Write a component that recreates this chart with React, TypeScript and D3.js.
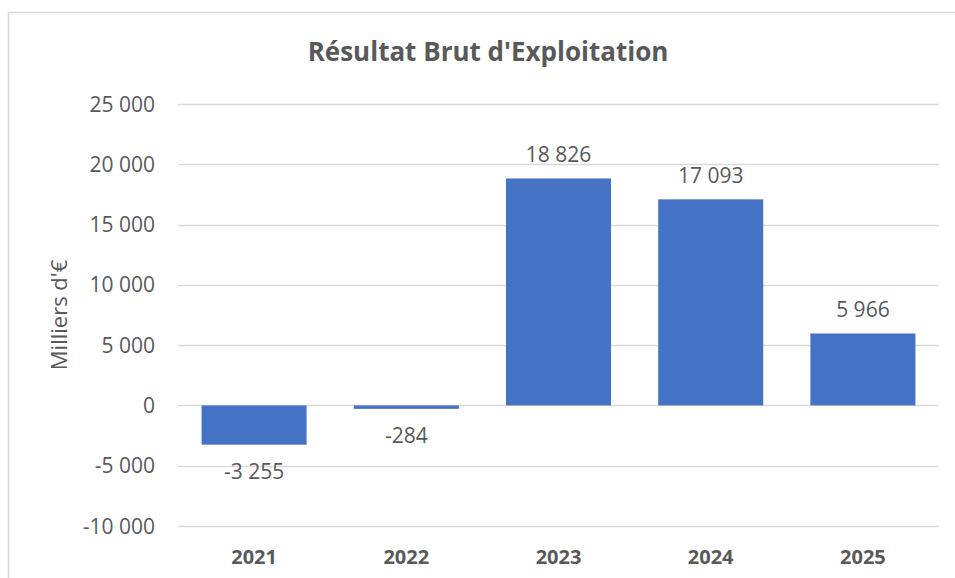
import React, { useEffect, useRef } from 'react';
import * as d3 from 'd3';

const years = ['2021', '2022', '2023', '2024', '2025'];
const values = [-3255, -284, 18826, 17093, 5966];
const yTicks = [-10000, -5000, 0, 5000, 10000, 15000, 20000, 25000];

const W = 955;
const H = 578;
const FONT = '"Open Sans", "Liberation Sans", sans-serif';
const TEXT = '#595959';

// "18 826" style numbers
const fmt = (v: number) => {
  const s = Math.abs(v).toString().replace(/\B(?=(\d{3})+(?!\d))/g, ' ');
  return (v < 0 ? '-' : '') + s;
};

export default function App() {
  const ref = useRef<SVGSVGElement>(null);

  useEffect(() => {
    const svg = d3.select(ref.current);
    svg.selectAll('*').remove();

    const x = d3.scaleBand<string>()
      .domain(years)
      .range([178, 939])
      .paddingInner(0.31)
      .paddingOuter(0.155);
    const y = d3.scaleLinear().domain([-10000, 25000]).range([526, 104]);

    // chart frame
    svg.append('rect')
      .attr('x', 8.5).attr('y', 12.5)
      .attr('width', 1000).attr('height', 1000)
      .attr('fill', 'white')
      .attr('stroke', '#d9d9d9').attr('stroke-width', 1.5);

    svg.append('text')
      .attr('x', 488).attr('y', 61)
      .attr('text-anchor', 'middle')
      .attr('font-family', FONT).attr('font-size', 26).attr('font-weight', 'bold')
      .attr('fill', TEXT)
      .text("Résultat Brut d'Exploitation");

    // gridlines + tick labels
    const grid = svg.append('g');
    grid.selectAll('line').data(yTicks).enter().append('line')
      .attr('x1', 178).attr('x2', 939)
      .attr('y1', d => Math.round(y(d)) + 0.5).attr('y2', d => Math.round(y(d)) + 0.5)
      .attr('stroke', '#d9d9d9').attr('stroke-width', 1.3);
    grid.selectAll('text').data(yTicks).enter().append('text')
      .attr('x', 155).attr('y', d => y(d) + 7.5)
      .attr('text-anchor', 'end')
      .attr('font-family', FONT).attr('font-size', 21)
      .attr('fill', TEXT)
      .text(d => fmt(d));

    svg.append('text')
      .attr('transform', 'translate(67,315) rotate(-90)')
      .attr('text-anchor', 'middle')
      .attr('font-family', FONT).attr('font-size', 22)
      .attr('fill', TEXT)
      .text("Milliers d'€");

    // bars
    svg.append('g').selectAll('rect').data(values).enter().append('rect')
      .attr('x', (d, i) => x(years[i])!)
      .attr('width', x.bandwidth())
      .attr('y', d => y(Math.max(0, d)))
      .attr('height', d => Math.abs(y(d) - y(0)))
      .attr('fill', '#4472c4');

    // data labels
    svg.append('g').selectAll('text').data(values).enter().append('text')
      .attr('x', (d, i) => x(years[i])! + x.bandwidth() / 2)
      .attr('y', d => (d >= 0 ? y(d) - 16 : y(d) + 34))
      .attr('text-anchor', 'middle')
      .attr('font-family', FONT).attr('font-size', 21)
      .attr('fill', TEXT)
      .text(d => fmt(d));

    // category labels
    svg.append('g').selectAll('text').data(years).enter().append('text')
      .attr('x', d => x(d)! + x.bandwidth() / 2)
      .attr('y', 564)
      .attr('text-anchor', 'middle')
      .attr('font-family', FONT).attr('font-size', 20).attr('font-weight', 'bold')
      .attr('fill', TEXT)
      .text(d => d);
  }, []);

  return (
    <svg
      ref={ref}
      width={W}
      height={H}
      style={{ position: 'absolute', left: 0, top: 0, display: 'block', background: 'white' }}
    />
  );
}
